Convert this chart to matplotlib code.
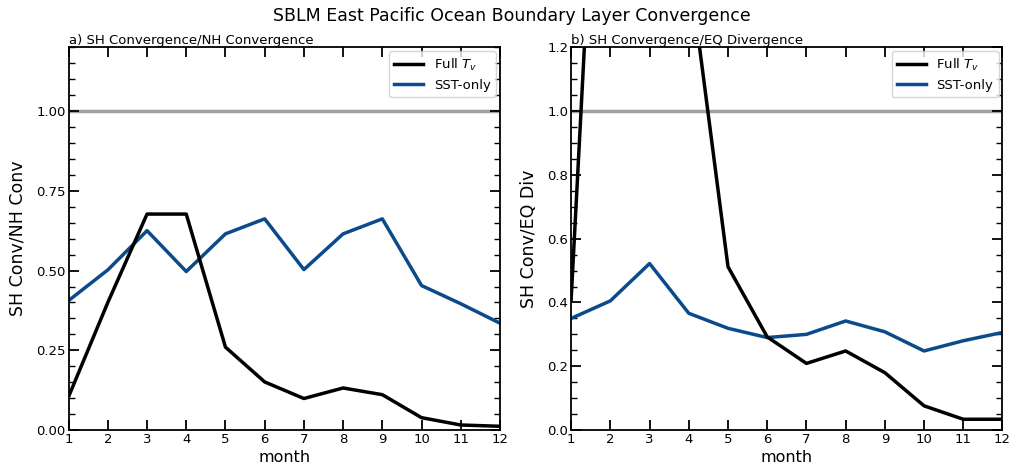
import numpy as np
import matplotlib
matplotlib.use("Agg")
import matplotlib.pyplot as plt
from matplotlib.ticker import MultipleLocator

# values
months = np.arange(1, 13)

# panel a) SH convergence / NH convergence
full_tv_a = [0.105, 0.40, 0.677, 0.677, 0.26, 0.151, 0.099, 0.132, 0.111, 0.039, 0.016, 0.012]
sst_only_a = [0.406, 0.502, 0.625, 0.497, 0.615, 0.662, 0.503, 0.615, 0.662, 0.453, 0.396, 0.335]

# panel b) SH convergence / EQ divergence (full Tv goes off the top of the axes)
full_tv_b = [0.41, 2.75, 2.1, 1.46, 0.512, 0.292, 0.209, 0.248, 0.18, 0.076, 0.034, 0.034]
sst_only_b = [0.35, 0.405, 0.522, 0.366, 0.319, 0.29, 0.30, 0.342, 0.308, 0.248, 0.28, 0.306]

titles = ['a) SH Convergence/NH Convergence', 'b) SH Convergence/EQ Divergence']
ylabels = ['SH Conv/NH Conv', 'SH Conv/EQ Div']

blue = '#0b4a8b'

fig, axes = plt.subplots(1, 2, figsize=(10.24, 4.67), dpi=100)
fig.subplots_adjust(left=0.067, right=0.979, bottom=0.079, top=0.899, wspace=0.165)

panels = [(full_tv_a, sst_only_a, 0.25), (full_tv_b, sst_only_b, 0.2)]
for i, ax in enumerate(axes):
    full, sst, major = panels[i]
    ax.axhline(1.0, color='#a0a0a0', lw=2.5, zorder=1)
    ax.plot(months, full, color='black', lw=2.5, label='Full $T_v$', zorder=3)
    ax.plot(months, sst, color=blue, lw=2.5, label='SST-only', zorder=2)

    ax.set_xlim(1, 12)
    ax.set_ylim(0, 1.2)
    ax.set_xticks(months)
    ax.yaxis.set_major_locator(MultipleLocator(major))
    ax.yaxis.set_minor_locator(MultipleLocator(0.05))
    if i == 0:
        ax.set_yticks([0, 0.25, 0.5, 0.75, 1.0])
        ax.set_yticklabels(['0.00', '0.25', '0.50', '0.75', '1.00'])
    ax.tick_params(which='both', direction='in', top=True, right=True, labelsize=9.5, pad=2)
    ax.tick_params(which='major', length=7, width=1.3)
    ax.tick_params(which='minor', length=4, width=1.0)
    for sp in ax.spines.values():
        sp.set_linewidth(1.3)

    ax.set_title(titles[i], loc='left', fontsize=9.5, pad=2)
    ax.set_xlabel('month', fontsize=11.5, labelpad=3)
    ax.set_ylabel(ylabels[i], fontsize=12.5, labelpad=7)
    ax.legend(loc='upper right', fontsize=9.5, handlelength=2.2, borderaxespad=0.3)

fig.suptitle('SBLM East Pacific Ocean Boundary Layer Convergence', fontsize=12.5, y=0.985)

fig.savefig('out.png', dpi=100)
